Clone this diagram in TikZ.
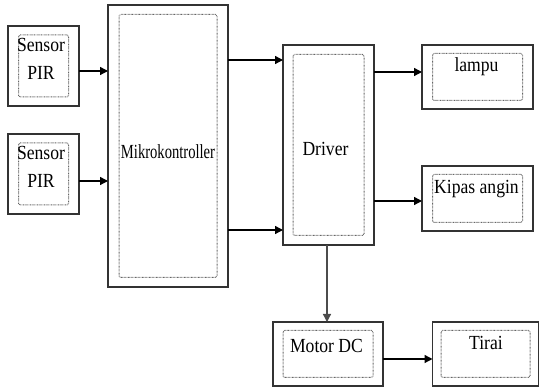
\documentclass[tikz,border=0pt]{standalone}
\usepackage{fontspec}
\setmainfont{Liberation Serif}
\usetikzlibrary{arrows.meta}
\newcommand{\sq}[2][0.88]{\scalebox{#1}[1]{#2}}
\begin{document}
\begin{tikzpicture}[x=1pt,y=-1pt,
  outer/.style={draw=black!80,line width=1.4pt,inner sep=0pt,outer sep=0pt},
  inner/.style={draw=black!60,line width=1pt,dash pattern=on 0.7pt off 0.7pt,
    rounded corners=1.5pt,inner sep=0pt,outer sep=0pt},
  lbl/.style={inner sep=0pt,font=\fontsize{20}{28}\selectfont,align=center},
  arr/.style={draw=black,line width=1.3pt,-{Triangle[length=8pt,width=8pt]}}]
\useasboundingbox (0,0) rectangle (539,387);
% blocks: name/x/y/width/height/inner width/inner height
\foreach \n/\x/\y/\w/\h/\iw/\ih in {sensorA/43.5/66/71/80/50/62,
    sensorB/43.5/174/71/80/50/62,
    mikro/168/146/120/282/98/263,
    driver/328.5/145/91/200/71/181,
    lampu/477.5/77/111/64/90/47,
    kipas/477.5/198.5/111/65/90/48,
    motor/328/354/110/64/90/47,
    tirai/485.5/354/106/64/89/47}{
  \node[outer,minimum width=\w,minimum height=\h] (\n) at (\x,\y) {};
  \node[inner,minimum width=\iw,minimum height=\ih] (\n-in) at (\n) {};
}
% texts
\node[lbl,anchor=north] (sensorA-t) at (41,38) {\sq{Sensor}\\\sq{PIR}};
\node[lbl,anchor=north] (sensorB-t) at (41,146) {\sq{Sensor}\\\sq{PIR}};
\node[lbl,anchor=base] (mikro-t) at (168,159) {\sq[0.73]{Mikrokontroller}};
\node[lbl,anchor=base] (driver-t) at (325.5,156) {\sq{Driver}};
\node[lbl,anchor=base] (lampu-t) at (476.5,72) {\sq{lampu}};
\node[lbl,anchor=base] (kipas-t) at (476.5,194) {\sq{Kipas angin}};
\node[lbl,anchor=base] (motor-t) at (326.5,353) {\sq{Motor DC}};
\node[lbl,anchor=base] (tirai-t) at (486,350) {\sq{Tirai}};
% connectors
\draw[arr] (sensorA.east |- 0,71) -- (mikro.west |- 0,71);
\draw[arr] (sensorB.east |- 0,181) -- (mikro.west |- 0,181);
\draw[arr] (mikro.east |- 0,60) -- (driver.west |- 0,60);
\draw[arr] (mikro.east |- 0,230) -- (driver.west |- 0,230);
\draw[arr] (driver.east |- 0,72) -- (lampu.west |- 0,72);
\draw[arr] (driver.east |- 0,201) -- (kipas.west |- 0,201);
\draw[arr,draw=black!70] (driver.south -| 327,0) -- (motor.north -| 327,0);
\draw[arr] (motor.east |- 0,359) -- (tirai.west |- 0,359);
\end{tikzpicture}
\end{document}
